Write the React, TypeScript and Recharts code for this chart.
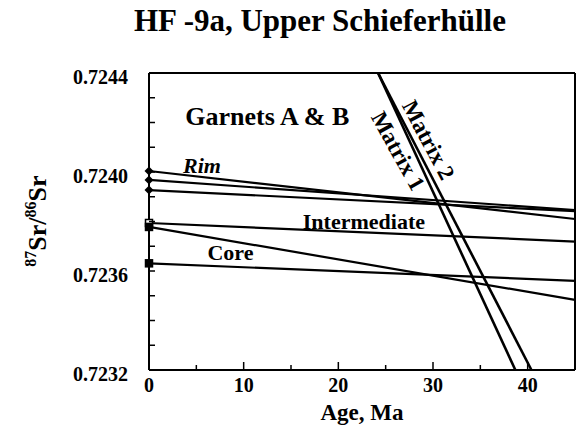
import React from "react"
import { LineChart, Line, XAxis, YAxis, ReferenceDot } from "recharts"

// ages at which each isochron is drawn (Ma)
const ages = [0, 45]

// 87Sr/86Sr of the garnet isochrons, read at 0 and 45 Ma
const rimValues = [0.724004, 0.72381]
const garnetBValues = [0.723968, 0.723846]
const garnetCValues = [0.723927, 0.723842]
const intermediateValues = [0.723794, 0.723719]
const coreValues = [0.723778, 0.723483]
const garnetFValues = [0.723631, 0.72356]

// matrix lines: age where they hit the top and bottom of the frame
const matrix1Ages = [24.2, 38.7]
const matrix2Ages = [24.2, 40.4]
const matrixValues = [0.7244, 0.7232]

const xTicks = [0, 5, 10, 15, 20, 25, 30, 35, 40, 45]
const xLabelTicks = [0, 10, 20, 30, 40]
const yTicks = [0.7232, 0.7233, 0.7234, 0.7235, 0.7236, 0.7237, 0.7238, 0.7239, 0.724, 0.7241, 0.7242, 0.7243, 0.7244]

const notes = [
  { text: "Garnets A & B", age: 12.5, value: 0.724226, size: 26, italic: false, angle: 0 },
  { text: "Rim", age: 5.6, value: 0.724028, size: 22, italic: true, angle: 0 },
  { text: "Intermediate", age: 22.7, value: 0.723798, size: 22, italic: false, angle: 0 },
  { text: "Core", age: 8.6, value: 0.723673, size: 22, italic: false, angle: 0 },
  { text: "Matrix 2", age: 29.5, value: 0.724129, size: 23, italic: false, angle: 62 },
  { text: "Matrix 1", age: 26.3, value: 0.724085, size: 23, italic: false, angle: 61 },
]

const font = "'Liberation Serif', 'DejaVu Serif', serif"
const serif = { fontFamily: font, fontWeight: "bold" as const }

const toSeries = (xs: number[], ys: number[]) => xs.map((age, i) => ({ age, value: ys[i] }))

const Diamond = (props: any) => {
  const { cx, cy, index } = props
  if (index !== 0) return <g key={`d-${cx}-${cy}`} />
  const s = 4.5
  return (
    <polygon
      key={`d-${cx}-${cy}`}
      points={`${cx},${cy - s} ${cx + s},${cy} ${cx},${cy + s} ${cx - s},${cy}`}
      fill="#000"
    />
  )
}

const makeSquare = (open: boolean) => (props: any) => {
  const { cx, cy, index } = props
  if (index !== 0) return <g key={`s-${cx}-${cy}`} />
  return (
    <rect
      key={`s-${cx}-${cy}`}
      x={cx - 3.5}
      y={cy - 3.5}
      width={7}
      height={7}
      fill={open ? "#fff" : "#000"}
      stroke="#000"
      strokeWidth={1.5}
    />
  )
}

const BottomTick = ({ x, y, payload }: any) => {
  const v = payload.value
  const major = v % 10 === 0
  return (
    <g>
      {v > 0 && v < 45 && (
        <line x1={x} x2={x} y1={y} y2={y - (major ? 8 : 5)} stroke="#000" strokeWidth={1.5} />
      )}
      {xLabelTicks.includes(v) && (
        <text x={x} y={y + 22} textAnchor="middle" style={{ ...serif, fontSize: 20 }} fill="#000">
          {v}
        </text>
      )}
    </g>
  )
}

const TopTick = ({ x, y, payload }: any) => {
  const v = payload.value
  if (v <= 0 || v >= 45) return <g />
  return <line x1={x} x2={x} y1={y} y2={y + 6} stroke="#000" strokeWidth={1.5} />
}

const LeftTick = ({ x, y, payload }: any) => {
  const v = payload.value
  const labelled = Math.round(v * 10000) % 4 === 0
  return (
    <g>
      <line x1={x} x2={x + 6} y1={y} y2={y} stroke="#000" strokeWidth={1.5} />
      {labelled && (
        <text x={x - 21} y={y + 11} textAnchor="end" style={{ ...serif, fontSize: 20 }} fill="#000">
          {v.toFixed(4)}
        </text>
      )}
    </g>
  )
}

const RightTick = ({ x, y }: any) => <line x1={x} x2={x - 6} y1={y} y2={y} stroke="#000" strokeWidth={1.5} />

const YTitle = () => (
  <text
    x={46}
    y={221}
    transform="rotate(-90, 46, 221)"
    textAnchor="middle"
    style={{ ...serif, fontSize: 26 }}
    fill="#000"
  >
    <tspan style={{ fontSize: 16 }} dy={-10}>87</tspan>
    <tspan dy={10}>Sr/</tspan>
    <tspan style={{ fontSize: 16 }} dy={-10}>86</tspan>
    <tspan dy={10}>Sr</tspan>
  </text>
)

const XTitle = () => (
  <text x={362} y={420} textAnchor="middle" style={{ ...serif, fontSize: 23 }} fill="#000">
    Age, Ma
  </text>
)

export default function App() {
  const axisLine = { stroke: "#000", strokeWidth: 2 }
  return (
    <div style={{ position: "absolute", left: 0, top: 0, width: 578, height: 435, background: "#fff" }}>
      <div
        style={{
          position: "absolute",
          left: 0,
          top: 5,
          width: 640,
          textAlign: "center",
          fontFamily: font,
          fontWeight: "bold",
          fontSize: 31,
          lineHeight: "31px",
          color: "#000",
        }}
      >
        HF -9a, Upper Schieferhülle
      </div>
      <LineChart width={578} height={435} margin={{ top: 0, right: 0, bottom: 0, left: 0 }}>
        <XAxis
          dataKey="age"
          type="number"
          domain={[0, 45]}
          ticks={xTicks}
          interval={0}
          height={65}
          tickSize={0}
          tickMargin={0}
          tickLine={false}
          axisLine={axisLine}
          tick={<BottomTick />}
          label={<XTitle />}
        />
        <XAxis
          xAxisId="top"
          orientation="top"
          type="number"
          domain={[0, 45]}
          ticks={xTicks}
          interval={0}
          height={73}
          tickSize={0}
          tickMargin={0}
          tickLine={false}
          axisLine={axisLine}
          tick={<TopTick />}
        />
        <YAxis
          type="number"
          domain={[0.7232, 0.7244]}
          ticks={yTicks}
          interval={0}
          width={149}
          tickSize={0}
          tickMargin={0}
          tickLine={false}
          axisLine={axisLine}
          tick={<LeftTick />}
          label={<YTitle />}
        />
        <YAxis
          yAxisId="right"
          orientation="right"
          type="number"
          domain={[0.7232, 0.7244]}
          ticks={yTicks}
          interval={0}
          width={3}
          tickSize={0}
          tickMargin={0}
          tickLine={false}
          axisLine={axisLine}
          tick={<RightTick />}
        />

        <Line data={toSeries(ages, rimValues)} dataKey="value" stroke="#000" strokeWidth={2.2} dot={Diamond} isAnimationActive={false} />
        <Line data={toSeries(ages, garnetBValues)} dataKey="value" stroke="#000" strokeWidth={2.2} dot={Diamond} isAnimationActive={false} />
        <Line data={toSeries(ages, garnetCValues)} dataKey="value" stroke="#000" strokeWidth={2.2} dot={Diamond} isAnimationActive={false} />
        <Line data={toSeries(ages, intermediateValues)} dataKey="value" stroke="#000" strokeWidth={2.2} dot={makeSquare(true)} isAnimationActive={false} />
        <Line data={toSeries(ages, coreValues)} dataKey="value" stroke="#000" strokeWidth={2.2} dot={makeSquare(false)} isAnimationActive={false} />
        <Line data={toSeries(ages, garnetFValues)} dataKey="value" stroke="#000" strokeWidth={2.2} dot={makeSquare(false)} isAnimationActive={false} />
        <Line data={toSeries(matrix1Ages, matrixValues)} dataKey="value" stroke="#000" strokeWidth={2.6} dot={false} isAnimationActive={false} />
        <Line data={toSeries(matrix2Ages, matrixValues)} dataKey="value" stroke="#000" strokeWidth={2.6} dot={false} isAnimationActive={false} />

        {notes.map((n) => (
          <ReferenceDot
            key={n.text}
            x={n.age}
            y={n.value}
            shape={(p: any) => (
              <text
                x={p.cx}
                y={p.cy}
                transform={n.angle ? `rotate(${n.angle}, ${p.cx}, ${p.cy})` : undefined}
                textAnchor="middle"
                dominantBaseline="central"
                style={{ ...serif, fontSize: n.size, fontStyle: n.italic ? "italic" : "normal" }}
                fill="#000"
              >
                {n.text}
              </text>
            )}
          />
        ))}
      </LineChart>
    </div>
  )
}
